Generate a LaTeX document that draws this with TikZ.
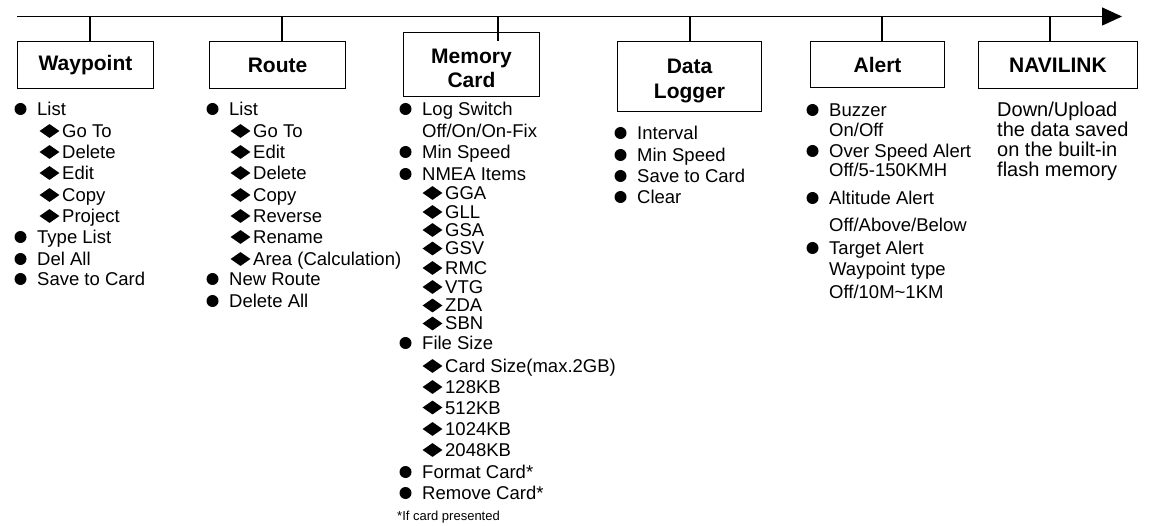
\documentclass[tikz,border=0pt]{standalone}
\usepackage{fontspec}
\setmainfont{Liberation Sans}
\usetikzlibrary{arrows.meta,shapes.geometric}
\newcommand\BI[4]{\node[bul] (#1b) at (#2-16.5,#3) {}; \node[itm] (#1) at (#2,#3+6.5) {#4};}
\newcommand\DI[4]{\node[dia] (#1b) at (#2-12.5,#3) {}; \node[itm] (#1) at (#2,#3+6.5) {#4};}
\newcommand\TI[4]{\node[itm] (#1) at (#2,#3+6.5) {#4};}
\tikzset{
  box/.style={draw, line width=1.4pt, inner sep=0pt, align=center,
    font=\bfseries\fontsize{21}{25}\selectfont},
  lbl/.style={inner sep=0pt, align=center, font=\bfseries\fontsize{21}{24.5}\selectfont},
  itm/.style={anchor=base west, inner sep=0pt, font=\fontsize{18.5}{21}\selectfont},
  navi/.style={anchor=base west, inner sep=0pt, font=\fontsize{20}{20}\selectfont},
  note/.style={anchor=base west, inner sep=0pt, font=\fontsize{13}{14}\selectfont},
  bul/.style={circle, fill, draw=none, inner sep=0pt, minimum size=12pt},
  dia/.style={diamond, fill, draw=none, inner sep=0pt, minimum width=20pt, minimum height=14pt},
  conn/.style={line width=1.4pt},
}
\begin{document}
\begin{tikzpicture}[x=1pt,y=-1pt]
\useasboundingbox (0,0) rectangle (1150,526);
\fill[white] (0,0) rectangle (1150,526);
% top line
\coordinate (L0) at (17,16.5);
\coordinate (L1) at (1122,16.5);
\draw[conn,-{Triangle[length=20pt,width=18pt]}] (L0) -- (L1);
% boxes
\node[box, minimum width=136pt, minimum height=47pt] (wp) at (85.5,65) {Waypoint};
\node[box, minimum width=136pt, minimum height=47pt] (rt) at (277.5,65) {Route};
\node[box, minimum width=136pt, minimum height=64pt] (mc) at (471.5,64.5) {};
\node[lbl] (mcl) at (471.5,68.5) {Memory\\Card};
\node[box, minimum width=144pt, minimum height=70pt] (dl) at (689.5,76.5) {};
\node[lbl] (dll) at (689.5,81) {Data\\Logger};
\node[box, minimum width=134pt, minimum height=46pt] (al) at (877.5,64.5) {Alert};
\node[box, minimum width=159pt, minimum height=47pt] (nv) at (1058,65) {NAVILINK};
% stems
\coordinate (s1) at (90,16.5);
\coordinate (s2) at (282,16.5);
\coordinate (s3) at (498,16.5);
\coordinate (s4) at (690,16.5);
\coordinate (s5) at (882,16.5);
\coordinate (s6) at (1050,16.5);
\draw[conn] (s1) -- (s1 |- wp.north);
\draw[conn] (s2) -- (s2 |- rt.north);
\draw[conn] (s3) -- (s3 |- wp.north);
\draw[conn] (s4) -- (s4 |- dl.north);
\draw[conn] (s5) -- (s5 |- al.north);
\draw[conn] (s6) -- (s6 |- nv.north);
% Waypoint list
\BI{wa}{37}{109}{List}
\DI{wb}{62}{131}{Go To}
\DI{wc}{62}{152}{Delete}
\DI{wd}{62}{173}{Edit}
\DI{we}{62}{195}{Copy}
\DI{wf}{62}{216}{Project}
\BI{wg}{37}{237}{Type List}
\BI{wh}{37}{259}{Del All}
\BI{wi}{37}{279}{Save to Card}
% Route list
\BI{ra}{229}{109}{List}
\DI{rb}{253}{131}{Go To}
\DI{rc}{253}{152}{Edit}
\DI{rd}{253}{173}{Delete}
\DI{re}{253}{195}{Copy}
\DI{rf}{253}{216}{Reverse}
\DI{rg}{253}{237}{Rename}
\DI{rh}{253}{259}{Area (Calculation)}
\BI{ri}{229}{279}{New Route}
\BI{rj}{229}{301}{Delete All}
% Memory Card list
\BI{ma}{422}{109}{Log Switch}
\TI{mb}{422}{131}{Off/On/On-Fix}
\BI{mc1}{422}{152}{Min Speed}
\BI{md}{422}{174}{NMEA Items}
\DI{me}{445}{193}{GGA}
\DI{mf}{445}{212}{GLL}
\DI{mg}{445}{230}{GSA}
\DI{mh}{445}{248.5}{GSV}
\DI{mi}{445}{268}{RMC}
\DI{mj}{445}{287}{VTG}
\DI{mk}{445}{305.5}{ZDA}
\DI{ml}{445}{323.5}{SBN}
\BI{mm}{422}{343}{File Size}
\DI{mn}{445}{366}{Card Size(max.2GB)}
\DI{mo}{445}{387}{128KB}
\DI{mp}{445}{407.5}{512KB}
\DI{mq}{445}{429}{1024KB}
\DI{mr}{445}{450}{2048KB}
\BI{ms}{422}{472}{Format Card*}
\BI{mt}{422}{493}{Remove Card*}
\node[note] (mu) at (397,520.5) {*If card presented};
% Data Logger list
\BI{da}{637}{133}{Interval}
\BI{db}{637}{155}{Min Speed}
\BI{dc}{637}{176}{Save to Card}
\BI{dd}{637}{197}{Clear}
% Alert list
\BI{aa}{829}{110}{Buzzer}
\TI{ab}{829}{130}{On/Off}
\BI{ac}{829}{151}{Over Speed Alert}
\TI{ad}{829}{170}{Off/5-150KMH}
\BI{ae}{829}{198}{Altitude Alert}
\TI{af}{829}{225}{Off/Above/Below}
\BI{ag}{829}{248}{Target Alert}
\TI{ah}{829}{269}{Waypoint type}
\TI{ai}{829}{292}{Off/10M\textasciitilde 1KM}
% NAVILINK text
\node[navi] (na) at (997,117) {Down/Upload};
\node[navi] (nb) at (997,136.5) {the data saved};
\node[navi] (nc) at (997,157) {on the built-in};
\node[navi] (nd) at (997,176.5) {flash memory};
\end{tikzpicture}
\end{document}
